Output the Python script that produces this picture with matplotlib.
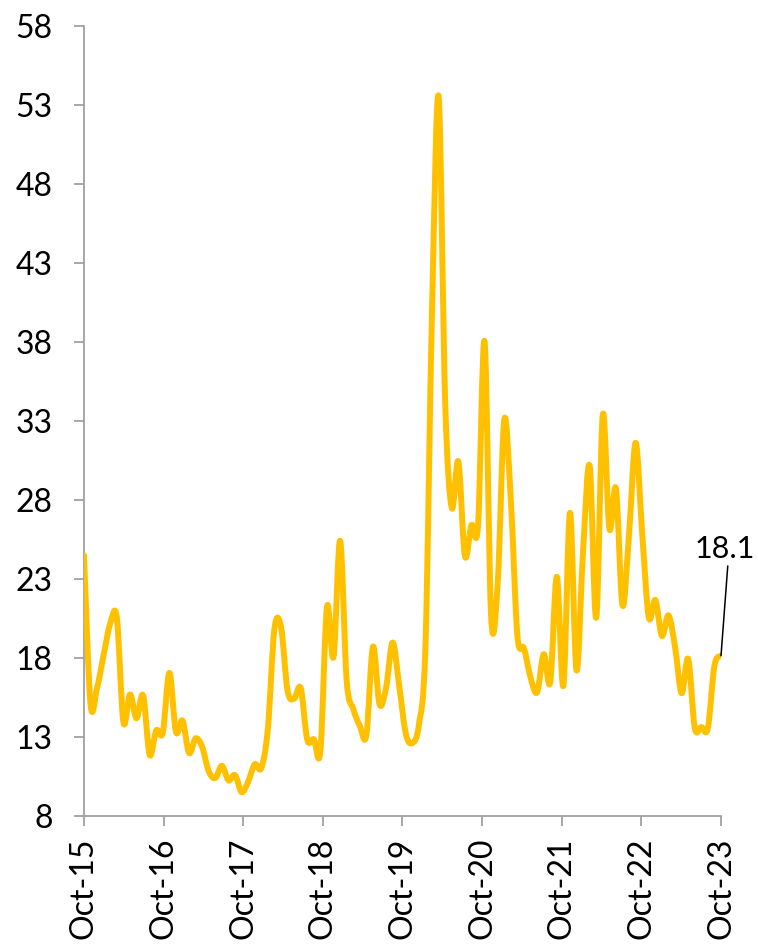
import numpy as np
import matplotlib
matplotlib.use("Agg")
import matplotlib.pyplot as plt
from matplotlib.path import Path
from matplotlib.patches import PathPatch

# --- Data (monthly closes, first to last) ---
VALUES = [24.50, 15.07, 16.13, 18.21, 20.20, 20.55, 13.95, 15.70, 14.19, 15.63,
          11.87, 13.42, 13.29, 17.06, 13.33, 14.04, 11.99, 12.92, 12.37, 10.82,
          10.41, 11.18, 10.26, 10.59, 9.51, 10.18, 11.28, 11.04, 13.54, 19.85,
          19.97, 15.93, 15.43, 16.09, 12.83, 12.86, 12.12, 21.23, 18.07, 25.42,
          16.57, 14.78, 13.71, 13.12, 18.71, 15.08, 16.12, 18.98, 16.24, 13.22,
          12.62, 13.78, 18.84, 40.11, 53.54, 34.15, 27.51, 30.43, 24.46, 26.41,
          26.37, 38.02, 20.57, 22.75, 33.09, 27.95, 19.40, 18.61, 16.76, 15.83,
          18.24, 16.48, 23.14, 16.26, 27.19, 17.22, 24.83, 30.15, 20.56, 33.40,
          26.19, 28.71, 21.33, 25.87, 31.62, 25.88, 20.58, 21.67, 19.40, 20.70,
          18.70, 15.78, 17.94, 13.59, 13.63, 13.57, 17.52, 18.14]
TICK_LABELS = ["Oct-15", "Oct-16", "Oct-17", "Oct-18", "Oct-19",
               "Oct-20", "Oct-21", "Oct-22", "Oct-23"]
Y_TICKS = [8, 13, 18, 23, 28, 33, 38, 43, 48, 53, 58]
LAST_LABEL = "18.1"

LINE_COLOR = "#FFC000"
AXIS_COLOR = "#A0A0A0"

plt.rcParams['font.family'] = ['Lato', 'DejaVu Sans']


def smooth_path(x, y):
    """Catmull-Rom style bezier path through the points (like a smoothed line)."""
    pts = np.column_stack([x, y])
    n = len(pts)
    verts = [pts[0]]
    codes = [Path.MOVETO]
    for i in range(n - 1):
        p0 = pts[i - 1] if i > 0 else pts[i]
        p1 = pts[i]
        p2 = pts[i + 1]
        p3 = pts[i + 2] if i + 2 < n else pts[i + 1]
        c1 = p1 + (p2 - p0) / 6.0
        c2 = p2 - (p3 - p1) / 6.0
        verts.extend([c1, c2, p2])
        codes.extend([Path.CURVE4] * 3)
    return Path(verts, codes)


def main():
    fig = plt.figure(figsize=(7.58, 9.48), dpi=100)
    ax = fig.add_axes([0.1108, 0.1392, 0.8404, 0.8334])

    x = np.arange(len(VALUES))
    y = np.array(VALUES)

    patch = PathPatch(smooth_path(x, y), facecolor="none", edgecolor=LINE_COLOR,
                      lw=4.3, capstyle="round", joinstyle="round", zorder=3)
    ax.add_patch(patch)

    ax.set_xlim(0, len(VALUES) - 1)
    ax.set_ylim(Y_TICKS[0], Y_TICKS[-1])
    ax.set_yticks(Y_TICKS)
    ax.set_xticks(np.linspace(0, len(VALUES) - 1, len(TICK_LABELS)))
    ax.set_xticklabels(TICK_LABELS, rotation=90)

    for side in ["top", "right"]:
        ax.spines[side].set_visible(False)
    for side in ["left", "bottom"]:
        ax.spines[side].set_color(AXIS_COLOR)
        ax.spines[side].set_linewidth(1.3)
    ax.tick_params(axis="y", direction="out", length=7.5, width=1.3,
                   color=AXIS_COLOR, labelsize=23, pad=15)
    ax.tick_params(axis="x", direction="out", length=7.5, width=1.3,
                   color=AXIS_COLOR, labelsize=23, pad=8)

    ax.annotate(LAST_LABEL, xy=(x[-1], y[-1]), xytext=(x[-1] + 0.6, 24.0),
                ha="center", va="bottom", fontsize=22, color="black",
                annotation_clip=False,
                arrowprops=dict(arrowstyle="-", color="black", lw=1.1,
                                shrinkA=0, shrinkB=0, relpos=(0.55, 0.0)))

    fig.savefig("out.png", dpi=100)


if __name__ == "__main__":
    main()
